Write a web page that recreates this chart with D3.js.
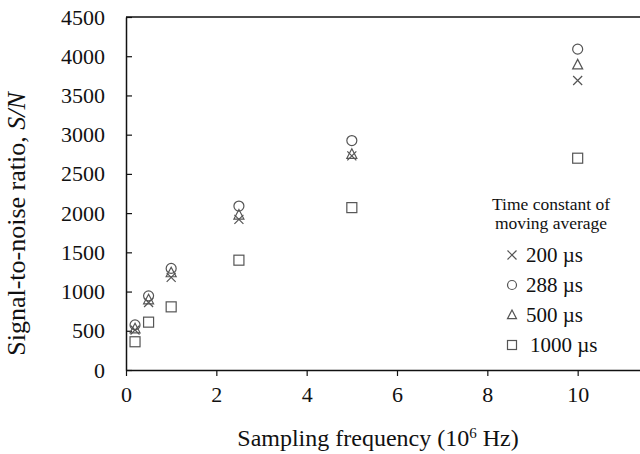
<!DOCTYPE html>
<html>
<head>
<meta charset="utf-8">
<script src="https://cdn.jsdelivr.net/npm/d3@7"></script>
<style>
body { margin: 0; background: #fff; }
text { font-family: "Liberation Serif", "Times New Roman", serif; fill: #111; }
</style>
</head>
<body>
<script>
// sampling frequency (10^6 Hz)
var freqs = [0.2, 0.5, 1, 2.5, 5, 10];
// S/N for each moving average time constant
var sn200 = [510, 860, 1180, 1920, 2730, 3690];
var sn288 = [575, 945, 1295, 2090, 2925, 4090];
var sn500 = [525, 895, 1240, 1975, 2750, 3890];
var sn1000 = [360, 610, 805, 1400, 2070, 2700];
var seriesNames = ["200 \u00b5s", "288  \u00b5s", "500 \u00b5s", "1000 \u00b5s"];
var xTicks = [0, 2, 4, 6, 8, 10];
var yTicks = [0, 500, 1000, 1500, 2000, 2500, 3000, 3500, 4000, 4500];

var svg = d3.select("body")
    .append("svg")
    .attr("width", 640)
    .attr("height", 454);

var x = d3.scaleLinear().domain([0, 12]).range([126, 668]);
var y = d3.scaleLinear().domain([0, 4500]).range([370, 17]);

var markColor = "#555";

// x axis, ticks pointing down
svg.append("g")
    .attr("transform", "translate(0,370)")
    .call(d3.axisBottom(x).tickValues(xTicks).tickFormat(d3.format("d"))
        .tickSize(6).tickPadding(10).tickSizeOuter(0))
    .call(function (g) {
        g.select(".domain").attr("stroke", "#111").attr("stroke-width", 1.5);
        g.selectAll(".tick line").attr("stroke", "#111").attr("stroke-width", 1.2);
        g.selectAll("text").style("font-size", "22px").attr("fill", "#111")
            .style("font-family", "Liberation Serif");
    });

// y axis, ticks pointing in
svg.append("g")
    .attr("transform", "translate(126,0)")
    .call(d3.axisLeft(y).tickValues(yTicks).tickFormat(d3.format("d"))
        .tickSize(-6).tickPadding(21).tickSizeOuter(0))
    .call(function (g) {
        g.select(".domain").attr("stroke", "#111").attr("stroke-width", 1.5);
        g.selectAll(".tick line").attr("stroke", "#111").attr("stroke-width", 1.2);
        g.selectAll("text").style("font-size", "22px").attr("fill", "#111")
            .style("font-family", "Liberation Serif");
    });

// top frame line
svg.append("line")
    .attr("x1", 126).attr("x2", 640)
    .attr("y1", y(4500)).attr("y2", y(4500))
    .attr("stroke", "#111").attr("stroke-width", 1.5);

// marker shapes
function drawMark(g, type, cx, cy, s) {
    if (type == 0) {
        g.append("path")
            .attr("d", "M" + (cx - s) + "," + (cy - s) + "L" + (cx + s) + "," + (cy + s) +
                "M" + (cx - s) + "," + (cy + s) + "L" + (cx + s) + "," + (cy - s))
            .attr("stroke", markColor).attr("stroke-width", 1.2).attr("fill", "none");
    } else if (type == 1) {
        g.append("circle").attr("cx", cx).attr("cy", cy).attr("r", s)
            .attr("stroke", markColor).attr("stroke-width", 1.2).attr("fill", "none");
    } else if (type == 2) {
        g.append("path")
            .attr("d", "M" + cx + "," + (cy - s * 1.1) + "L" + (cx + s) + "," + (cy + s * 0.8) +
                "L" + (cx - s) + "," + (cy + s * 0.8) + "Z")
            .attr("stroke", markColor).attr("stroke-width", 1.2).attr("fill", "none");
    } else {
        g.append("rect").attr("x", cx - s).attr("y", cy - s)
            .attr("width", 2 * s).attr("height", 2 * s)
            .attr("stroke", markColor).attr("stroke-width", 1.2).attr("fill", "none");
    }
}

var allSeries = [sn200, sn288, sn500, sn1000];
var pts = svg.append("g");
allSeries.forEach(function (vals, k) {
    vals.forEach(function (v, i) {
        drawMark(pts, k, x(freqs[i]), y(v), k == 0 ? 4.5 : 5);
    });
});

// legend
var leg = svg.append("g");
leg.append("text").attr("x", 551).attr("y", 210).attr("text-anchor", "middle")
    .style("font-size", "17.5px").text("Time constant of");
leg.append("text").attr("x", 551).attr("y", 229).attr("text-anchor", "middle")
    .style("font-size", "17.5px").text("moving average");
var legY = [255, 285, 315, 345];
seriesNames.forEach(function (name, k) {
    drawMark(leg, k, 512, legY[k], 4.5);
    leg.append("text").attr("x", k == 3 ? 530 : 526).attr("y", legY[k] + 7)
        .style("font-size", "21px").text(name);
});

// axis titles
svg.append("text")
    .attr("x", 378).attr("y", 446).attr("text-anchor", "middle")
    .style("font-size", "24px")
    .html("Sampling frequency (10<tspan dy='-8' font-size='15px'>6</tspan><tspan dy='8'> Hz)</tspan>");

svg.append("text")
    .attr("transform", "translate(25,224) rotate(-90)")
    .attr("text-anchor", "middle")
    .style("font-size", "26px")
    .html("Signal-to-noise ratio, <tspan font-style='italic'>S/N</tspan>");
</script>
</body>
</html>
